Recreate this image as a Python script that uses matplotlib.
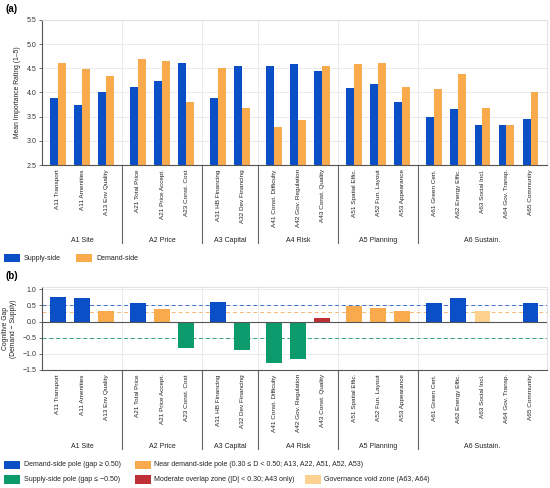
import matplotlib
matplotlib.use("Agg")
import matplotlib.pyplot as plt
from matplotlib.patches import Rectangle
import matplotlib.transforms as mtransforms
import numpy as np

plt.rcParams['font.family'] = ['Liberation Sans', 'DejaVu Sans']

# ---------------- data ----------------
labels = ["A11 Transport", "A11 Amenities", "A13 Env Quality",
          "A21 Total Price", "A21 Price Accept.", "A23 Const. Cost",
          "A31 HB Financing", "A32 Dev Financing",
          "A41 Const. Difficulty", "A42 Gov. Regulation", "A43 Const. Quality",
          "A51 Spatial Effic.", "A52 Fun. Layout", "A53 Appearance",
          "A61 Green Cert.", "A62 Energy Effic.", "A63 Social Incl.",
          "A64 Gov. Transp.", "A65 Community"]
group_of = [0, 0, 0, 1, 1, 1, 2, 2, 3, 3, 3, 4, 4, 4, 5, 5, 5, 5, 5]
groups = ["A1 Site", "A2 Price", "A3 Capital", "A4 Risk", "A5 Planning", "A6 Sustain."]

supply = [3.88, 3.74, 4.00, 4.12, 4.24, 4.62, 3.89, 4.55, 4.55, 4.59, 4.44,
          4.10, 4.17, 3.80, 3.50, 3.65, 3.33, 3.33, 3.46]
demand = [4.62, 4.48, 4.34, 4.69, 4.65, 3.81, 4.50, 3.67, 3.28, 3.44, 4.55,
          4.58, 4.60, 4.12, 4.07, 4.38, 3.67, 3.33, 4.02]

gap = [0.75, 0.73, 0.34, 0.57, 0.40, -0.82, 0.60, -0.88, -1.28, -1.16, 0.11,
       0.49, 0.43, 0.32, 0.58, 0.74, 0.34, 0.00, 0.56]
gap_class = ["demand", "demand", "near", "demand", "near", "supply",
             "demand", "supply", "supply", "supply", "overlap",
             "near", "near", "near", "demand", "demand", "void", "void", "demand"]

# ---------------- style ----------------
BLUE = "#0a4fc6"
ORANGE = "#f9aa4c"
GREEN = "#0b9b6c"
RED = "#be2f36"
LIGHT = "#fdd18f"
class_color = {"demand": BLUE, "near": ORANGE, "supply": GREEN,
               "overlap": RED, "void": LIGHT}

GAPW = 0.32
pos = np.array([i + GAPW * g for i, g in enumerate(group_of)])
xlim = (pos[0] - 0.66, pos[-1] + 0.68)
seps = [(pos[i] + pos[i + 1]) / 2 for i in range(len(pos) - 1)
        if group_of[i] != group_of[i + 1]]
gcenters = [np.mean(pos[[i for i, g in enumerate(group_of) if g == k]])
            for k in range(len(groups))]

W, H = 550, 488
fig = plt.figure(figsize=(5.5, 4.88), dpi=100)

def ax_rect(l, r, t, b):
    return [l / W, 1 - b / H, (r - l) / W, (b - t) / H]

TICK_FS = 4.6
GRID = "#e6e6e6"
SPINE_D = "#555555"

def style_axes(ax):
    ax.set_xlim(*xlim)
    ax.set_xticks(pos)
    ax.set_xticklabels(labels, rotation=90, fontsize=TICK_FS, color="#222222")
    ax.tick_params(axis='x', length=0, pad=3)
    ax.tick_params(axis='y', labelsize=TICK_FS + 0.4, length=2.5, width=0.6,
                   color=SPINE_D, pad=1.5, labelcolor="#333333")
    for s in ["top", "right"]:
        ax.spines[s].set_color("#dddddd")
        ax.spines[s].set_linewidth(0.6)
    for s in ["left", "bottom"]:
        ax.spines[s].set_color(SPINE_D)
        ax.spines[s].set_linewidth(0.8)
    ax.yaxis.grid(True, color=GRID, linewidth=0.6)
    ax.set_axisbelow(True)
    for sx in seps:
        ax.axvline(sx, color=GRID, linewidth=0.6, zorder=0)

def group_decor(ax, y_line_end, y_text):
    tr = mtransforms.blended_transform_factory(ax.transData, ax.transAxes)
    for sx in seps:
        ax.plot([sx, sx], [0, y_line_end], transform=tr, color="#666666",
                linewidth=0.8, clip_on=False)
    for c, g in zip(gcenters, groups):
        ax.text(c, y_text, g, transform=tr, ha="center", va="center",
                fontsize=5.0, color="#222222")

# ---------------- (a) ----------------
ax1 = fig.add_axes(ax_rect(42, 547, 20, 165))
bw = 0.325
ax1.bar(pos - bw / 2, supply, width=bw, color=BLUE, zorder=3)
ax1.bar(pos + bw / 2, demand, width=bw, color=ORANGE, zorder=3)
ax1.set_ylim(2.5, 5.5)
ax1.set_yticks(np.arange(2.5, 5.51, 0.5))
ax1.set_yticklabels([f"{v:.1f}" for v in np.arange(2.5, 5.51, 0.5)])
style_axes(ax1)
ax1.set_ylabel("Mean Importance Rating (1–5)", fontsize=4.9, color="#222222",
               labelpad=4)
group_decor(ax1, -(242.7 - 165) / 145, -(240 - 165) / 145)

fig.text(5 / W, 1 - 9 / H, "(a)", fontsize=7, fontweight="bold",
         ha="left", va="center")
fig.text(5 / W, 1 - 276 / H, "(b)", fontsize=7, fontweight="bold",
         ha="left", va="center")

def legend_item(x, y, color, text, pw=16, ph=8.5):
    fig.add_artist(Rectangle((x / W, 1 - (y + ph / 2) / H), pw / W, ph / H,
                             transform=fig.transFigure, facecolor=color,
                             edgecolor="none"))
    fig.text((x + pw + 4) / W, 1 - y / H, text, fontsize=5.0,
             ha="left", va="center", color="#222222")

legend_item(3.5, 258, BLUE, "Supply-side")
legend_item(76, 258, ORANGE, "Demand-side")

# ---------------- (b) ----------------
ax2 = fig.add_axes(ax_rect(42, 547, 287.3, 370))
ax2.bar(pos, gap, width=0.65, color=[class_color[c] for c in gap_class], zorder=3)
ax2.set_ylim(-1.5, 1.06)
yt = [1.0, 0.5, 0.0, -0.5, -1.0, -1.5]
ax2.set_yticks(yt)
ax2.set_yticklabels([f"{v:.1f}".replace("-", "−") for v in yt])
style_axes(ax2)
ax2.axhline(0, color="#555555", linewidth=0.8, zorder=4)
ax2.axhline(0.5, color="#3d72d6", linewidth=0.7, linestyle=(0, (4, 3)), zorder=2)
ax2.axhline(0.3, color="#f6b774", linewidth=0.7, linestyle=(0, (4, 3)), zorder=2)
ax2.axhline(-0.5, color="#2ea77c", linewidth=0.7, linestyle=(0, (4, 3)), zorder=2)
ax2.set_ylabel("Cognitive Gap\n(Demand − Supply)", fontsize=4.9,
               color="#222222", labelpad=4, linespacing=1.2)
group_decor(ax2, -(449 - 370) / 82.7, -(446 - 370) / 82.7)

legend_item(3.5, 465, BLUE, "Demand-side pole (gap ≥ 0.50)")
legend_item(134.5, 465, ORANGE,
            "Near demand-side pole (0.30 ≤ D < 0.50; A13, A22, A51, A52, A53)")
legend_item(3.5, 479.7, GREEN, "Supply-side pole (gap ≤ −0.50)")
legend_item(134.5, 479.7, RED, "Moderate overlap zone (|D| < 0.30; A43 only)")
legend_item(304.5, 479.7, LIGHT, "Governance void zone (A63, A64)")

fig.savefig("out.png", dpi=100)
